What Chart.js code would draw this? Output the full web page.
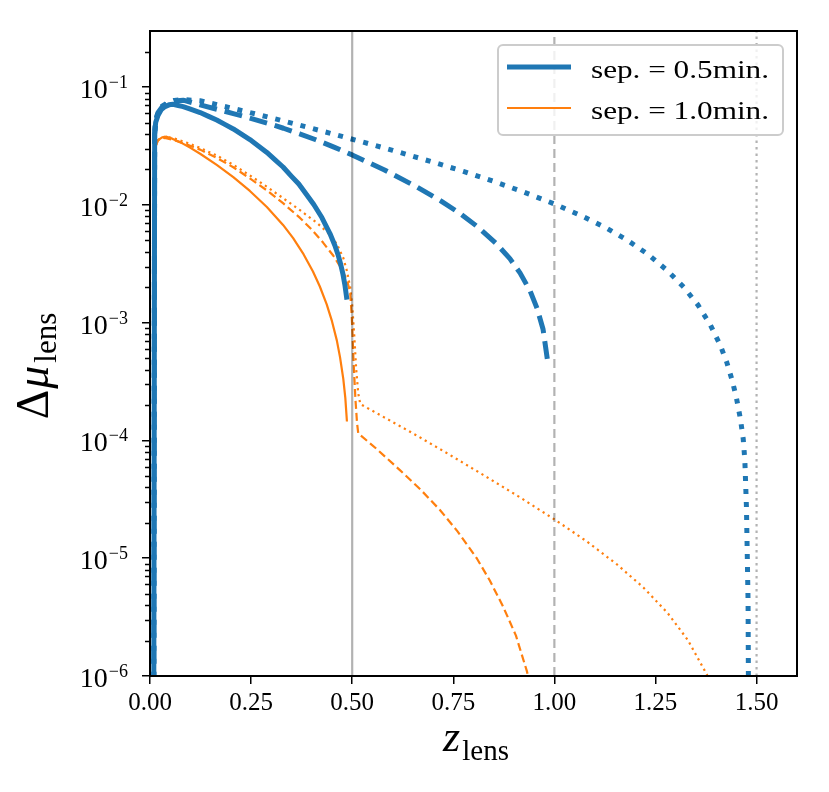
<!DOCTYPE html>
<html>
<head>
<meta charset="utf-8">
<script src="https://cdn.jsdelivr.net/npm/chart.js@4.4.1/dist/chart.umd.min.js"></script>
<style>
  html, body { margin: 0; padding: 0; background: #fff; }
</style>
</head>
<body>
<canvas id="chart" width="829" height="792"></canvas>
<script>
const xTicks = [0, 0.25, 0.5, 0.75, 1.0, 1.25, 1.5]
const yDecades = [-6, -5, -4, -3, -2, -1]
const sourceRedshifts = [0.5, 1.0, 1.5]
const legendLabels = ['sep. = 0.5min.', 'sep. = 1.0min.']

// sep = 0.5 min, source at z = 0.5 (solid), 1.0 (dashed), 1.5 (dotted)
const zSep05Src05 = [0.009, 0.0115, 0.014, 0.02, 0.028, 0.037, 0.047, 0.057, 0.07, 0.082, 0.1, 0.124, 0.145, 0.165, 0.185, 0.206, 0.227, 0.247, 0.268, 0.289, 0.31, 0.329, 0.35, 0.368, 0.387, 0.405, 0.425, 0.445, 0.457, 0.465, 0.472, 0.477, 0.482, 0.487]
const muSep05Src05 = [1e-7, 0.0398, 0.0501, 0.0579, 0.0646, 0.0684, 0.0708, 0.0716, 0.0699, 0.0684, 0.0651, 0.0609, 0.0565, 0.0526, 0.0483, 0.0442, 0.0397, 0.0359, 0.0317, 0.0279, 0.024, 0.021, 0.0175, 0.01504, 0.01225, 0.01008, 0.00782, 0.00572, 0.00455, 0.00378, 0.00309, 0.0026, 0.00209, 0.00157]
const zSep05Src10 = [0.009, 0.0115, 0.014, 0.02, 0.03, 0.045, 0.06, 0.082, 0.124, 0.165, 0.206, 0.247, 0.29, 0.33, 0.37, 0.41, 0.455, 0.5, 0.58, 0.66, 0.72, 0.766, 0.81, 0.857, 0.89, 0.915, 0.94, 0.957, 0.972, 0.984]
const muSep05Src10 = [1e-7, 0.04, 0.052, 0.061, 0.068, 0.073, 0.0765, 0.0776, 0.0708, 0.065, 0.0597, 0.0546, 0.0495, 0.0448, 0.0402, 0.0358, 0.031, 0.0266, 0.0198, 0.01422, 0.01078, 0.0085, 0.00653, 0.00467, 0.0035, 0.00265, 0.00186, 0.00133, 0.00088, 0.000453]
const zSep05Src15 = [0.009, 0.0115, 0.014, 0.02, 0.03, 0.045, 0.06, 0.082, 0.124, 0.185, 0.247, 0.31, 0.37, 0.43, 0.495, 0.6, 0.7, 0.775, 0.85, 0.925, 1.0, 1.07, 1.13, 1.18, 1.23, 1.28, 1.32, 1.355, 1.385, 1.41, 1.426, 1.44, 1.45, 1.46, 1.467, 1.471, 1.475, 1.479, 1.481]
const muSep05Src15 = [1e-7, 0.04, 0.052, 0.062, 0.069, 0.074, 0.0772, 0.0785, 0.0767, 0.0686, 0.0609, 0.0538, 0.0476, 0.042, 0.0366, 0.0291, 0.0231, 0.01926, 0.01585, 0.01284, 0.0102, 0.00801, 0.00632, 0.00503, 0.00384, 0.00276, 0.002, 0.001416, 0.000968, 0.000647, 0.000465, 0.000321, 0.000232, 0.000153, 0.000103, 6.8e-5, 2.7e-5, 4.3e-6, 1e-7]

// sep = 1.0 min
const zSep10Src05 = [0.009, 0.0115, 0.014, 0.02, 0.03, 0.041, 0.055, 0.08, 0.1, 0.124, 0.165, 0.206, 0.247, 0.289, 0.329, 0.354, 0.38, 0.403, 0.42, 0.437, 0.45, 0.462, 0.47, 0.478, 0.483, 0.487]
const muSep10Src05 = [1e-7, 0.025, 0.032, 0.0355, 0.0375, 0.038, 0.03656, 0.03334, 0.03055, 0.02721, 0.0219, 0.01721, 0.01315, 0.0096, 0.00677, 0.00522, 0.0038, 0.00272, 0.00203, 0.00143, 0.00103, 0.000708, 0.000508, 0.000333, 0.00023, 0.000145]
const zSep10Src10 = [0.009, 0.0115, 0.014, 0.02, 0.03, 0.037, 0.06, 0.09, 0.124, 0.165, 0.206, 0.247, 0.289, 0.329, 0.371, 0.4, 0.428, 0.453, 0.475, 0.487, 0.495, 0.499, 0.503, 0.508, 0.512, 0.515, 0.56, 0.618, 0.67, 0.717, 0.76, 0.808, 0.84, 0.873, 0.905, 0.932, 0.95]
const muSep10Src10 = [1e-7, 0.0251, 0.0316, 0.0355, 0.0372, 0.037, 0.0355, 0.0327, 0.0295, 0.0251, 0.0209, 0.0168, 0.0133, 0.01035, 0.00776, 0.00617, 0.00479, 0.00372, 0.00282, 0.00229, 0.00182, 0.00112, 0.000501, 0.000224, 0.000141, 0.000115, 8.5e-5, 5.6e-5, 3.8e-5, 2.57e-5, 1.7e-5, 1.0e-5, 6.5e-6, 3.9e-6, 2.2e-6, 1.1e-6, 6e-7]
const zSep10Src15 = [0.009, 0.0115, 0.014, 0.02, 0.03, 0.04, 0.06, 0.09, 0.124, 0.165, 0.206, 0.247, 0.289, 0.33, 0.371, 0.412, 0.44, 0.462, 0.478, 0.487, 0.495, 0.5, 0.505, 0.51, 0.515, 0.52, 0.59, 0.66, 0.74, 0.824, 0.91, 1.0, 1.08, 1.155, 1.22, 1.28, 1.33, 1.377, 1.39]
const muSep10Src15 = [1e-7, 0.0251, 0.0316, 0.0355, 0.0376, 0.038, 0.0367, 0.0339, 0.0305, 0.0263, 0.0219, 0.0178, 0.0143, 0.01135, 0.00902, 0.00708, 0.00582, 0.00468, 0.00355, 0.00275, 0.002, 0.00141, 0.00079, 0.000398, 0.000251, 0.000204, 0.00015, 0.00011, 7.6e-5, 5.1e-5, 3.37e-5, 2.14e-5, 1.39e-5, 8.85e-6, 5.65e-6, 3.43e-6, 2.02e-6, 1.03e-6, 8.1e-7]

const yMin = 1e-6
const yMax = 0.3
const blue = '#1f77b4'
const orange = '#ff7f0e'
const serif = '"Liberation Serif", "DejaVu Serif", serif'

const pts = (xs, ys) => xs.map((x, i) => ({ x: x, y: ys[i] }))

function curve(label, xs, ys, color, width, dash) {
  return {
    label: label,
    data: pts(xs, ys),
    borderColor: color,
    borderWidth: width,
    borderDash: dash,
    borderJoinStyle: 'round',
    pointRadius: 0,
    fill: false,
    tension: 0,
    order: 1
  }
}

const refDashes = [[], [9, 5], [2.5, 4]]
const refLines = sourceRedshifts.map((zs, i) => ({
  label: '',
  data: [{ x: zs, y: yMin }, { x: zs, y: yMax }],
  borderColor: 'rgba(0,0,0,0.3)',
  borderWidth: 2.2,
  borderDash: refDashes[i],
  pointRadius: 0,
  order: 0
}))

const datasets = [
  curve(legendLabels[0], zSep05Src05, muSep05Src05, blue, 5, []),
  curve('', zSep05Src10, muSep05Src10, blue, 5, [18, 8]),
  curve('', zSep05Src15, muSep05Src15, blue, 5, [5, 8]),
  curve(legendLabels[1], zSep10Src05, muSep10Src05, orange, 2.2, []),
  curve('', zSep10Src10, muSep10Src10, orange, 2.2, [8, 4]),
  curve('', zSep10Src15, muSep10Src15, orange, 2.2, [2.2, 3.8])
].concat(refLines)

const decorations = {
  id: 'decorations',
  afterDraw(chart) {
    const { ctx, chartArea: a, scales } = chart
    const y = scales.y
    ctx.save()

    // minor ticks on the log axis
    ctx.strokeStyle = '#000'
    ctx.lineWidth = 1.3
    ctx.beginPath()
    for (const e of yDecades) {
      for (let m = 2; m <= 9; m++) {
        const v = m * Math.pow(10, e)
        if (v > yMax) continue
        const py = Math.round(y.getPixelForValue(v)) + 0.5
        ctx.moveTo(a.left - 5, py)
        ctx.lineTo(a.left, py)
      }
    }
    ctx.stroke()

    // decade labels 10^k
    ctx.fillStyle = '#000'
    ctx.textAlign = 'right'
    ctx.textBaseline = 'alphabetic'
    for (const e of yDecades) {
      const py = y.getPixelForValue(Math.pow(10, e))
      const right = a.left - 22
      const exp = '\u2212' + Math.abs(e)
      ctx.font = '18px ' + serif
      const ew = ctx.measureText(exp).width
      ctx.fillText(exp, right, py + 1)
      ctx.font = '28px ' + serif
      ctx.fillText('10', right - ew - 1, py + 11)
    }

    // frame
    ctx.lineWidth = 2
    ctx.strokeRect(a.left, a.top, a.right - a.left, a.bottom - a.top)

    // axis titles
    ctx.textAlign = 'left'
    ctx.font = 'italic 44px ' + serif
    const zw = ctx.measureText('z').width
    ctx.font = '29px ' + serif
    const lw = ctx.measureText('lens').width
    let x0 = 476 - (zw + lw + 2) / 2
    ctx.font = 'italic 44px ' + serif
    ctx.fillText('z', x0, 751)
    ctx.font = '29px ' + serif
    ctx.fillText('lens', x0 + zw + 2, 760)

    ctx.translate(48, 366)
    ctx.rotate(-Math.PI / 2)
    ctx.font = '46px ' + serif
    const dw = ctx.measureText('\u0394').width
    ctx.font = 'italic 46px ' + serif
    const mw = ctx.measureText('\u03bc').width
    ctx.font = '31px ' + serif
    const sw = ctx.measureText('lens').width
    x0 = -(dw + mw + sw + 4) / 2
    ctx.font = '46px ' + serif
    ctx.fillText('\u0394', x0, 0)
    ctx.font = 'italic 46px ' + serif
    ctx.fillText('\u03bc', x0 + dw + 1, 0)
    ctx.font = '31px ' + serif
    ctx.fillText('lens', x0 + dw + mw + 4, 8)
    ctx.restore()

    // legend
    ctx.save()
    const bx = a.right - 299, by = a.top + 14, bw = 285, bh = 90
    ctx.beginPath()
    ctx.roundRect(bx, by, bw, bh, 5)
    ctx.fillStyle = 'rgba(255,255,255,0.8)'
    ctx.fill()
    ctx.strokeStyle = '#cccccc'
    ctx.lineWidth = 2
    ctx.stroke()
    const entries = chart.data.datasets.filter(d => d.label)
    entries.forEach((d, i) => {
      const ly = by + 22 + i * 41
      ctx.strokeStyle = d.borderColor
      ctx.lineWidth = d.borderWidth
      ctx.setLineDash([])
      ctx.beginPath()
      ctx.moveTo(bx + 9, ly)
      ctx.lineTo(bx + 73, ly)
      ctx.stroke()
      ctx.fillStyle = '#000'
      ctx.font = '25px ' + serif
      ctx.textAlign = 'left'
      ctx.textBaseline = 'alphabetic'
      const tw = ctx.measureText(d.label).width
      ctx.save()
      ctx.translate(bx + 93, ly + 11)
      ctx.scale(178 / tw, 1)
      ctx.fillText(d.label, 0, 0)
      ctx.restore()
    })
    ctx.restore()
  }
}

new Chart(document.getElementById('chart'), {
  type: 'line',
  data: { datasets: datasets },
  options: {
    responsive: false,
    animation: false,
    layout: { padding: { left: 0, right: 32, top: 31, bottom: 0 } },
    plugins: {
      legend: { display: false },
      tooltip: { enabled: false }
    },
    scales: {
      x: {
        type: 'linear',
        min: 0,
        max: 1.6,
        afterBuildTicks: (scale) => { scale.ticks = xTicks.map(v => ({ value: v })) },
        afterFit: (scale) => { scale.height = 116 },
        grid: { drawOnChartArea: false, drawTicks: true, tickLength: 8, color: '#000', lineWidth: 1.5 },
        border: { display: true, color: '#000', width: 2 },
        ticks: {
          color: '#000',
          padding: 4,
          maxRotation: 0,
          font: { family: serif, size: 25 },
          callback: (v) => Number(v).toFixed(2)
        }
      },
      y: {
        type: 'logarithmic',
        min: yMin,
        max: yMax,
        afterBuildTicks: (scale) => { scale.ticks = yDecades.map(e => ({ value: Math.pow(10, e) })) },
        afterFit: (scale) => { scale.width = 150 },
        grid: { drawOnChartArea: false, drawTicks: true, tickLength: 8, color: '#000', lineWidth: 1.5 },
        border: { display: true, color: '#000', width: 2 },
        ticks: { display: false }
      }
    }
  },
  plugins: [decorations]
})
</script>
</body>
</html>
